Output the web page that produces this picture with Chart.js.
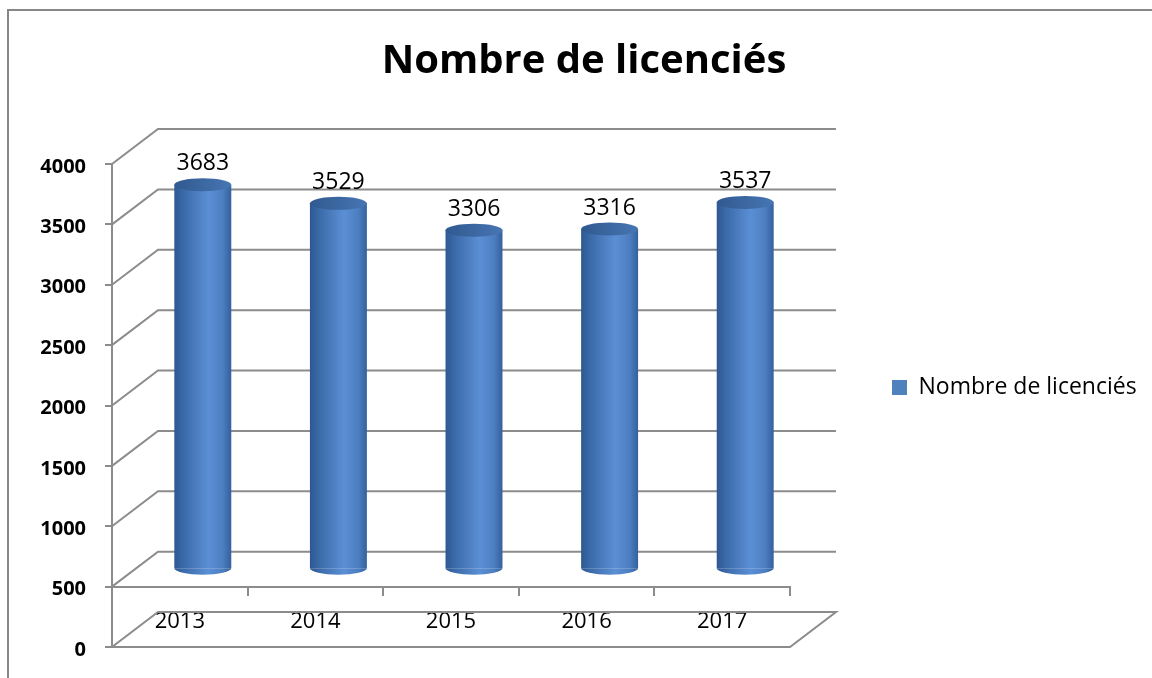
<!DOCTYPE html>
<html><head><meta charset="utf-8">
<script src="https://cdn.jsdelivr.net/npm/chart.js@4.4.1/dist/chart.umd.min.js"></script>
<style>html,body{margin:0;padding:0;background:#fff;overflow:hidden}#c{display:block}</style>
</head><body>
<canvas id="c" width="1152" height="678"></canvas>
<script>
// ---- data ----
const chartTitle = 'Nombre de licenciés';
const seriesName = 'Nombre de licenciés';
const categories = ['2013', '2014', '2015', '2016', '2017'];
const values = [3683, 3529, 3306, 3316, 3537];
const yTicks = [0, 500, 1000, 1500, 2000, 2500, 3000, 3500, 4000];
const barBase = 500;

// ---- style ----
const FONT = '"Open Sans", Lato, sans-serif';
const GRID = '#8c8c8c';
const DX = 46, DY = -35;      // depth offset of the 3D box
const RY = 6.5;               // ellipse half-height of cylinder caps
const CAT_PCT = 0.6, BAR_PCT = 0.7;
const LEGEND_COLOR = '#4f81bd';

function bodyGradient(ctx, cx, half) {
  const g = ctx.createLinearGradient(cx - half, 0, cx + half, 0);
  g.addColorStop(0, '#2d5892');
  g.addColorStop(0.15, '#3a69a7');
  g.addColorStop(0.6, '#5b8fd5');
  g.addColorStop(0.85, '#4c7ec1');
  g.addColorStop(1, '#34619d');
  return g;
}
function topGradient(ctx, cx, half) {
  const g = ctx.createLinearGradient(cx - half, 0, cx + half, 0);
  g.addColorStop(0, '#30598f');
  g.addColorStop(1, '#4776b3');
  return g;
}

const box3d = {
  id: 'box3d',
  beforeLayout(chart) {
    const lg = chart.legend;
    if (lg && !lg._fixedW) {
      const f = lg.fit;
      lg.fit = function () { f.call(this); this.width = 362; };
      lg._fixedW = true;
    }
  },
  afterLayout(chart) {
    const lg = chart.legend;
    if (lg) { lg.top = 128; lg.height = lg.bottom - lg.top; }
  },
  beforeDraw(chart) {
    const ctx = chart.ctx;
    ctx.save();
    ctx.strokeStyle = '#878787';
    ctx.lineWidth = 2;
    ctx.beginPath();
    ctx.moveTo(8, 678); ctx.lineTo(8, 10); ctx.lineTo(1152, 10);
    ctx.stroke();
    ctx.restore();
  },
  beforeDatasetsDraw(chart) {
    const ctx = chart.ctx, ys = chart.scales.y, a = chart.chartArea;
    ctx.save();
    ctx.strokeStyle = GRID;
    ctx.lineWidth = 2;
    ys.ticks.forEach(t => {
      const py = ys.getPixelForValue(t.value);
      ctx.beginPath();
      if (t.value >= barBase) {
        ctx.moveTo(a.left, py);
        ctx.lineTo(a.left + DX, py + DY);
        ctx.lineTo(a.right + DX, py + DY);
      } else {
        ctx.moveTo(a.left, py);
        ctx.lineTo(a.right, py);
        ctx.lineTo(a.right + DX, py + DY);
        ctx.lineTo(a.left + DX, py + DY);
        ctx.closePath();
      }
      ctx.stroke();
    });
    ctx.restore();
    ctx.save();
    ctx.translate(DX / 2, DY / 2);
  },
  afterDatasetsDraw(chart) {
    const ctx = chart.ctx;
    const meta = chart.getDatasetMeta(0);
    meta.data.forEach(bar => {
      const half = bar.width / 2;
      ctx.beginPath();
      ctx.ellipse(bar.x, bar.base, half, RY, 0, 0, Math.PI);
      ctx.fillStyle = bodyGradient(ctx, bar.x, half);
      ctx.fill();
      ctx.beginPath();
      ctx.ellipse(bar.x, bar.y, half, RY, 0, 0, Math.PI * 2);
      ctx.fillStyle = topGradient(ctx, bar.x, half);
      ctx.fill();
    });
    ctx.restore();
    ctx.save();
    ctx.fillStyle = '#000';
    ctx.font = '23px ' + FONT;
    ctx.textAlign = 'center';
    ctx.textBaseline = 'middle';
    const ds = chart.data.datasets[0];
    meta.data.forEach((bar, i) => {
      ctx.fillText(String(ds.data[i]), bar.x + DX / 2, bar.y + DY / 2 - 21);
    });
    ctx.restore();
  }
};

new Chart(document.getElementById('c'), {
  type: 'bar',
  data: {
    labels: categories,
    datasets: [{
      label: seriesName,
      data: values,
      base: barBase,
      borderWidth: 0,
      categoryPercentage: CAT_PCT,
      barPercentage: BAR_PCT,
      backgroundColor(c) {
        const ch = c.chart, xs = ch.scales.x;
        if (!ch.chartArea || !xs || c.dataIndex === undefined) return LEGEND_COLOR;
        const cx = xs.getPixelForValue(c.dataIndex);
        const half = xs.width / categories.length * CAT_PCT * BAR_PCT / 2;
        return bodyGradient(ch.ctx, cx, half);
      }
    }]
  },
  options: {
    responsive: false,
    animation: false,
    devicePixelRatio: 1,
    layout: { padding: { left: 16, right: 0, top: 0, bottom: 31 } },
    plugins: {
      title: {
        display: true, text: chartTitle, color: '#000',
        font: { family: FONT, size: 40, weight: 'bold' },
        padding: { top: 37.5, bottom: 78.5 }
      },
      legend: {
        position: 'right',
        labels: {
          boxWidth: 15, boxHeight: 15, padding: 102, color: '#000',
          font: { family: FONT, size: 23 },
          generateLabels(chart) {
            const items = Chart.defaults.plugins.legend.labels.generateLabels(chart);
            items.forEach(it => { it.fillStyle = LEGEND_COLOR; it.strokeStyle = LEGEND_COLOR; it.lineWidth = 0; });
            return items;
          }
        }
      },
      tooltip: { enabled: false }
    },
    scales: {
      x: {
        position: { y: barBase },
        grid: { display: true, drawOnChartArea: false, drawTicks: true, tickLength: 8, color: GRID, lineWidth: 2, offset: true },
        border: { display: true, color: GRID, width: 2 },
        ticks: { color: '#000', font: { family: FONT, size: 22 }, padding: 14, maxRotation: 0 }
      },
      y: {
        min: yTicks[0], max: yTicks[yTicks.length - 1],
        ticks: {
          stepSize: yTicks[1] - yTicks[0], color: '#000',
          font: { family: FONT, size: 20, weight: 'bold' }, padding: 19, labelOffset: 3,
          format: { useGrouping: false }
        },
        grid: { display: true, drawOnChartArea: false, drawTicks: true, tickLength: 7, color: GRID, lineWidth: 2 },
        border: { display: true, color: GRID, width: 2 },
        afterFit(s) { s.width = 96; }
      }
    }
  },
  plugins: [box3d]
});
</script>
</body></html>
